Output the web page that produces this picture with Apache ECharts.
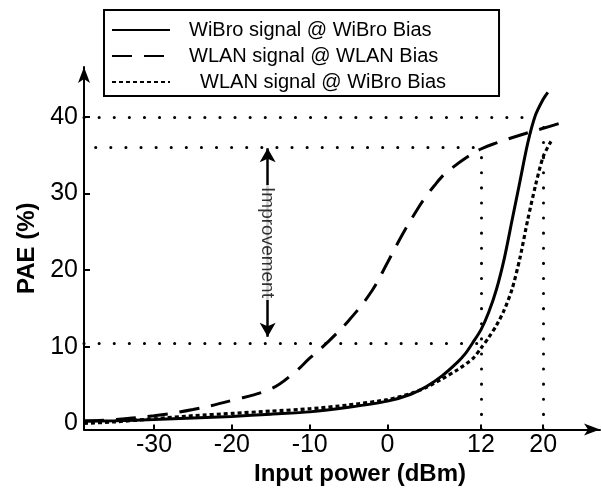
<!DOCTYPE html>
<html>
<head>
<meta charset="utf-8">
<script src="https://cdn.jsdelivr.net/npm/echarts@6/dist/echarts.min.js"></script>
<style>html,body{margin:0;padding:0;background:#fff}#c{width:602px;height:489px}</style>
</head>
<body>
<div id="c"></div>
<script>
// ---- data ----
const seriesNames = ['WiBro signal @ WiBro Bias', 'WLAN signal @ WLAN Bias', 'WLAN signal @ WiBro Bias'];
const solidX = [-39, -35, -30, -25, -20, -15, -10, -5, 0, 3, 5, 7, 9, 10, 11, 12, 13, 14, 15, 16, 17, 18, 19, 20, 20.6];
const solidY = [0.3, 0.35, 0.5, 0.7, 0.9, 1.2, 1.5, 2.1, 2.9, 3.8, 4.8, 6.2, 8.0, 9.1, 10.6, 12.2, 14.5, 17.5, 21.5, 26.5, 31.5, 36.5, 40.2, 42.3, 43.2];
const dashX = [-39, -35, -30, -25, -20, -15, -12, -10, -8, -5, -2, 0, 2, 4, 5, 6, 7, 8, 10, 12, 14, 17, 20, 22.3];
const dashY = [0.3, 0.5, 1.0, 1.8, 3.0, 4.5, 6.6, 8.5, 10.3, 13.4, 17.3, 21.0, 24.8, 28.2, 29.7, 31.0, 32.2, 33.1, 34.6, 35.8, 36.6, 37.6, 38.5, 39.2];
const dotX = [-39, -35, -30, -25, -20, -15, -10, -5, 0, 3, 5, 7, 9, 11, 12, 13, 14, 15, 16, 17, 18, 19, 20, 21];
const dotY = [0.0, 0.2, 0.6, 1.0, 1.3, 1.6, 1.9, 2.4, 3.1, 3.9, 4.7, 5.8, 7.0, 8.5, 9.8, 11.2, 12.8, 14.8, 17.5, 21.5, 26.5, 31.0, 34.8, 36.8];
const xTicks = [-30, -20, -10, 0, 12, 20];
const yTickLabels = [0, 10, 20, 30, 40];
const yTicks = [10, 20, 30, 40];
// reference (dotted) guide lines: [x1, y1, x2, y2]
const guideLines = [
  [-39, 40, 17.5, 40],
  [-37.5, 36, 12, 36],
  [-39, 10.5, 12, 10.5],
  [12, -0.8, 12, 36],
  [20, -0.8, 20, 39.5]
];
const improvementX = -15.4;
const improvementFrom = 35.9;
const improvementTo = 11.3;
const improvementLabel = 'Improvement';

const zip = (xs, ys) => xs.map((x, i) => [x, ys[i]]);
const FONT = '"Liberation Sans", Arial, sans-serif';

const chart = echarts.init(document.getElementById('c'), null, {renderer: 'canvas'});
chart.setOption({
  animation: false,
  backgroundColor: '#fff',
  grid: {left: 84, right: 2, top: 67, bottom: 59.5, containLabel: false, outerBoundsMode: 'none'},
  legend: {
    data: seriesNames,
    orient: 'vertical',
    left: 104, top: 10,
    padding: [10, 53, 4, 7],
    itemWidth: 58, itemHeight: 14, itemGap: 6,
    borderColor: '#000', borderWidth: 2,
    itemStyle: {opacity: 0},
    formatter: n => (n === seriesNames[2] ? '  ' + n : n),
    textStyle: {fontFamily: FONT, fontSize: 20, color: '#000', lineHeight: 20, padding: [0, 0, 0, 14]}
  },
  xAxis: {
    type: 'value', min: -39, max: 27.3,
    axisLine: {show: true, onZero: false, symbol: ['none', 'arrow'], symbolSize: [9, 16], lineStyle: {color: '#000', width: 2}},
    axisTick: {show: true, inside: true, length: 5, customValues: xTicks, lineStyle: {color: '#000', width: 2}},
    axisLabel: {customValues: xTicks, color: '#000', fontSize: 25, fontFamily: FONT, margin: 3},
    splitLine: {show: false},
    name: 'Input power (dBm)', nameLocation: 'middle', nameGap: 33,
    nameTextStyle: {fontFamily: FONT, fontSize: 24, fontWeight: 'bold', color: '#000', padding: [0, 0, 0, 36]}
  },
  yAxis: {
    type: 'value', min: -0.8, max: 46.5,
    axisLine: {show: true, onZero: false, symbol: ['none', 'arrow'], symbolSize: [9, 16], lineStyle: {color: '#000', width: 2}},
    axisTick: {show: true, inside: true, length: 6, customValues: yTicks, lineStyle: {color: '#000', width: 2}},
    axisLabel: {customValues: yTickLabels, color: '#000', fontSize: 25, fontFamily: FONT, margin: 6},
    splitLine: {show: false},
    name: 'PAE (%)', nameLocation: 'middle', nameGap: 44,
    nameTextStyle: {fontFamily: FONT, fontSize: 24, fontWeight: 'bold', color: '#000'}
  },
  series: [
    {
      name: seriesNames[0], type: 'line', data: zip(solidX, solidY), smooth: 0.25,
      symbol: 'none', showSymbol: false, z: 5,
      lineStyle: {color: '#000', width: 3, type: 'solid'}, itemStyle: {color: '#000'},
      markLine: {
        silent: true, symbol: ['none', 'none'], animation: false,
        label: {show: false},
        lineStyle: {color: '#000', width: 3, type: [0.1, 15], cap: 'round'},
        data: guideLines.map(g => [{coord: [g[0], g[1]]}, {coord: [g[2], g[3]]}])
      }
    },
    {
      name: seriesNames[1], type: 'line', data: zip(dashX, dashY), smooth: 0.4,
      symbol: 'none', showSymbol: false, z: 5,
      lineStyle: {color: '#000', width: 3, type: [20, 12]}, itemStyle: {color: '#000'}
    },
    {
      name: seriesNames[2], type: 'line', data: zip(dotX, dotY), smooth: 0.25,
      symbol: 'none', showSymbol: false, z: 5,
      lineStyle: {color: '#000', width: 3.2, type: [4, 3]}, itemStyle: {color: '#000'}
    },
    {
      name: 'improvement', type: 'line', data: [], symbol: 'none',
      markLine: {
        silent: true, symbol: ['arrow', 'arrow'], symbolSize: [12, 14], animation: false,
        label: {show: false},
        lineStyle: {color: '#000', width: 2.5, type: 'solid'},
        data: [[{coord: [improvementX, improvementFrom]}, {coord: [improvementX, improvementTo]}]]
      }
    },
    {
      name: 'improvementLabel', type: 'scatter', symbolSize: 0, z: 10,
      data: [[improvementX, (improvementFrom + improvementTo) / 2]],
      label: {
        show: true, position: 'inside', rotate: -90, formatter: improvementLabel,
        fontFamily: FONT, fontSize: 19, color: '#000', backgroundColor: '#fff', padding: [0, 2]
      }
    }
  ]
});
</script>
</body>
</html>
